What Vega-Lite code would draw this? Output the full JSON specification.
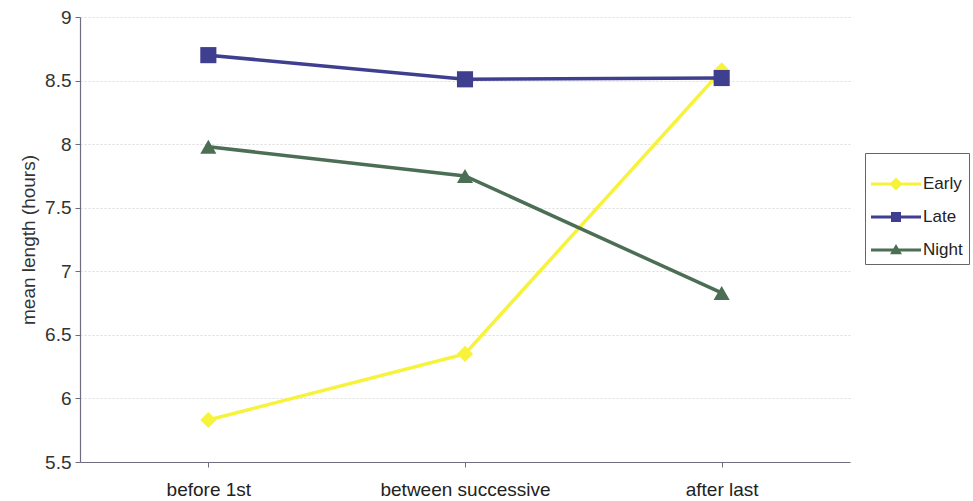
{
  "$schema": "https://vega.github.io/schema/vega-lite/v6.json",
  "width": 770,
  "height": 445,
  "autosize": {"type": "none"},
  "padding": {"left": 80, "top": 17, "right": 123, "bottom": 39},
  "background": "white",
  "config": {
    "font": "Liberation Sans",
    "view": {"stroke": null}
  },
  "data": {
    "values": [
      {"period": "before 1st", "shift": "Early", "hours": 5.83},
      {"period": "between successive", "shift": "Early", "hours": 6.35},
      {"period": "after last", "shift": "Early", "hours": 8.58},
      {"period": "before 1st", "shift": "Late", "hours": 8.70},
      {"period": "between successive", "shift": "Late", "hours": 8.51},
      {"period": "after last", "shift": "Late", "hours": 8.52},
      {"period": "before 1st", "shift": "Night", "hours": 7.98},
      {"period": "between successive", "shift": "Night", "hours": 7.75},
      {"period": "after last", "shift": "Night", "hours": 6.83}
    ]
  },
  "encoding": {
    "x": {
      "field": "period",
      "type": "nominal",
      "sort": ["before 1st", "between successive", "after last"],
      "scale": {"paddingInner": 0, "paddingOuter": 0},
      "axis": {
        "title": null,
        "labelAngle": 0,
        "labelFontSize": 19,
        "labelColor": "#222222",
        "labelPadding": 13,
        "bandPosition": 0,
        "domainColor": "#6e6e80",
        "domainWidth": 1.2,
        "tickColor": "#6e6e80",
        "tickSize": 5,
        "grid": false
      }
    },
    "y": {
      "field": "hours",
      "type": "quantitative",
      "scale": {"domain": [5.5, 9], "nice": false, "zero": false},
      "axis": {
        "title": "mean length (hours)",
        "titleFontSize": 19,
        "titleFontWeight": "normal",
        "titleColor": "#333333",
        "titlePadding": 6,
        "values": [5.5, 6, 6.5, 7, 7.5, 8, 8.5, 9],
        "format": ".1~f",
        "labelFontSize": 19,
        "labelColor": "#333333",
        "labelPadding": 4,
        "domainColor": "#6e6e80",
        "domainWidth": 1.2,
        "tickColor": "#6e6e80",
        "tickSize": 5,
        "grid": true,
        "gridColor": "#dcdcdc",
        "gridDash": [2, 2],
        "gridWidth": 1
      }
    },
    "color": {
      "field": "shift",
      "type": "nominal",
      "scale": {
        "domain": ["Early", "Late", "Night"],
        "range": ["#f7f23a", "#3f3f8f", "#4b6e55"]
      },
      "legend": null
    }
  },
  "layer": [
    {
      "mark": {"type": "line", "strokeWidth": 3.5}
    },
    {
      "mark": {"type": "point", "filled": true, "opacity": 1, "size": 260},
      "encoding": {
        "shape": {
          "field": "shift",
          "type": "nominal",
          "scale": {
            "domain": ["Early", "Late", "Night"],
            "range": ["diamond", "square", "triangle-up"]
          },
          "legend": null
        }
      }
    },
    {
      "mark": {"type": "point", "filled": true, "opacity": 0, "size": 2500},
      "encoding": {
        "color": {
          "field": "shift",
          "type": "nominal",
          "scale": {
            "domain": ["Early", "Late", "Night"],
            "range": ["#f7f23a", "#3f3f8f", "#4b6e55"]
          },
          "legend": {
            "orient": "none",
            "legendX": 785,
            "legendY": 136,
            "title": null,
            "strokeColor": "#666666",
            "fillColor": "white",
            "padding": 6,
            "labelFontSize": 17,
            "labelColor": "#222222",
            "labelOffset": 2,
            "symbolSize": 2500,
            "symbolOpacity": 1,
            "symbolStrokeWidth": 0,
            "rowPadding": -8
          }
        },
        "shape": {
          "field": "shift",
          "type": "nominal",
          "scale": {
            "domain": ["Early", "Late", "Night"],
            "range": [
              "M-1,-0.06H1V0.06H-1ZM0,-0.26L0.26,0L0,0.26L-0.26,0Z",
              "M-1,-0.06H1V0.06H-1ZM-0.2,-0.2H0.2V0.2H-0.2Z",
              "M-1,-0.06H1V0.06H-1ZM0,-0.24L0.24,0.17H-0.24Z"
            ]
          },
          "legend": {
            "orient": "none",
            "legendX": 785,
            "legendY": 136,
            "title": null,
            "strokeColor": "#666666",
            "fillColor": "white",
            "padding": 6,
            "labelFontSize": 17,
            "labelColor": "#222222",
            "labelOffset": 2,
            "symbolSize": 2500,
            "symbolOpacity": 1,
            "symbolStrokeWidth": 0,
            "rowPadding": -8
          }
        }
      }
    }
  ],
  "resolve": {"scale": {"color": "independent", "shape": "independent"}}
}
